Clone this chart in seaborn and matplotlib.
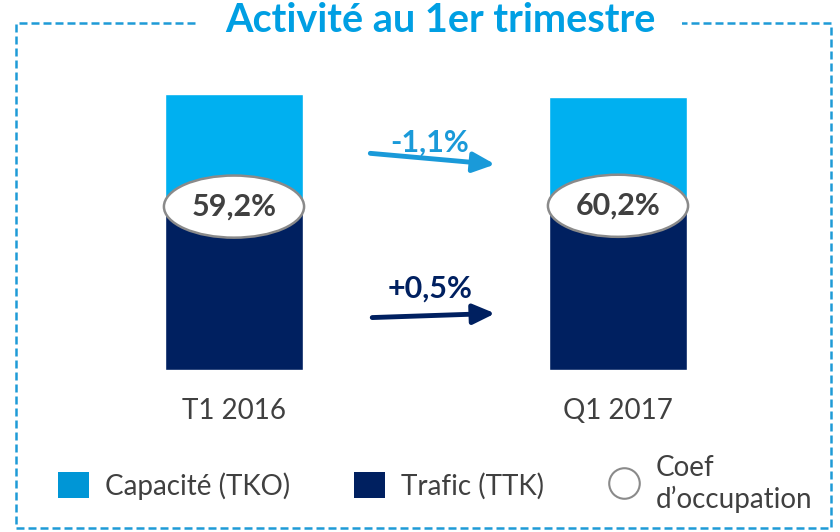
import matplotlib
matplotlib.use("Agg")
import matplotlib.pyplot as plt
import seaborn as sns
from matplotlib.patches import Ellipse, Rectangle, Patch
from matplotlib.lines import Line2D

# Data (capacity indexed to 100 for T1 2016)
periodes = ["T1 2016", "Q1 2017"]
capacite = [100.0, 98.9]       # TKO
trafic = [59.2, 59.5]          # TTK
coef_labels = ["59,2%", "60,2%"]
var_capacite = "-1,1%"
var_trafic = "+0,5%"

LIGHT = "#00B0F0"
LIGHT_TXT = "#1A9AD9"
DARK = "#002060"
GREY = "#404040"

sns.set_theme(style="white")
plt.rcParams["font.family"] = ["Lato", "DejaVu Sans"]

fig = plt.figure(figsize=(8.4, 5.32), dpi=100)
ax = fig.add_axes([42 / 840, (532 - 370) / 532, 768 / 840, 276 / 532])

sns.barplot(x=periodes, y=capacite, color=LIGHT, width=0.36, saturation=1, ax=ax)
sns.barplot(x=periodes, y=trafic, color=DARK, width=0.36, saturation=1, ax=ax)

# occupancy ellipses
for i, (t, lab) in enumerate(zip(trafic, coef_labels)):
    ax.add_patch(Ellipse((i, t), 0.365, 22.5, facecolor="white",
                         edgecolor="#8a8a8a", lw=1.8, zorder=5))
    ax.text(i, t, lab, ha="center", va="center", fontsize=22,
            fontweight="bold", color=GREY, zorder=6)

# variation arrows
ax.annotate("", xy=(0.68, 74.5), xytext=(0.355, 78.5),
            arrowprops=dict(arrowstyle="-|>,head_length=1.1,head_width=0.5",
                            color=LIGHT_TXT, lw=3.5, shrinkA=0, shrinkB=0))
ax.text(0.51, 82.5, var_capacite, ha="center", va="center", fontsize=22,
        fontweight="bold", color=LIGHT_TXT)
ax.annotate("", xy=(0.68, 20.5), xytext=(0.36, 19.0),
            arrowprops=dict(arrowstyle="-|>,head_length=1.1,head_width=0.5",
                            color=DARK, lw=3.5, shrinkA=0, shrinkB=0))
ax.text(0.51, 29.5, var_trafic, ha="center", va="center", fontsize=22,
        fontweight="bold", color=DARK)

ax.set_xlim(-0.5, 1.5)
ax.set_ylim(0, 100)
ax.set_yticks([])
ax.set_xticks([0, 1])
ax.set_xticklabels(periodes, fontsize=20, color=GREY)
ax.tick_params(axis="x", length=0, pad=20)
ax.set_xlabel("")
ax.set_ylabel("")
sns.despine(ax=ax, left=True, bottom=True)

# dashed frame with title
frame = Rectangle((16 / 840, 4 / 532), 815 / 840, 505 / 532, transform=fig.transFigure,
                  fill=False, edgecolor="#1E9BD7", lw=1.8, ls=(0, (3.2, 1.6)))
fig.patches.append(frame)
fig.text(440 / 840, 1 - 21 / 532, "Activité au 1er trimestre", ha="center", va="center",
         fontsize=28.5, fontweight="bold", color="#009FE3",
         bbox=dict(facecolor="white", edgecolor="none", pad=19))

# legend
handles = [
    Patch(facecolor="#0096D6", edgecolor="none"),
    Patch(facecolor=DARK, edgecolor="none"),
    Line2D([], [], marker="o", ls="none", markersize=22, markerfacecolor="white",
           markeredgecolor="#8a8a8a", markeredgewidth=1.5),
]
labels = ["Capacité (TKO)", "Trafic (TTK)", "Coef\nd\u2019occupation"]
fig.legend(handles, labels, loc="center", bbox_to_anchor=(0.518, 1 - 484 / 532), ncol=3,
           frameon=False, fontsize=20, labelcolor=GREY, handlelength=1.1,
           handleheight=1.1, handletextpad=0.6, columnspacing=2.3)

fig.savefig("out.png", dpi=100)
